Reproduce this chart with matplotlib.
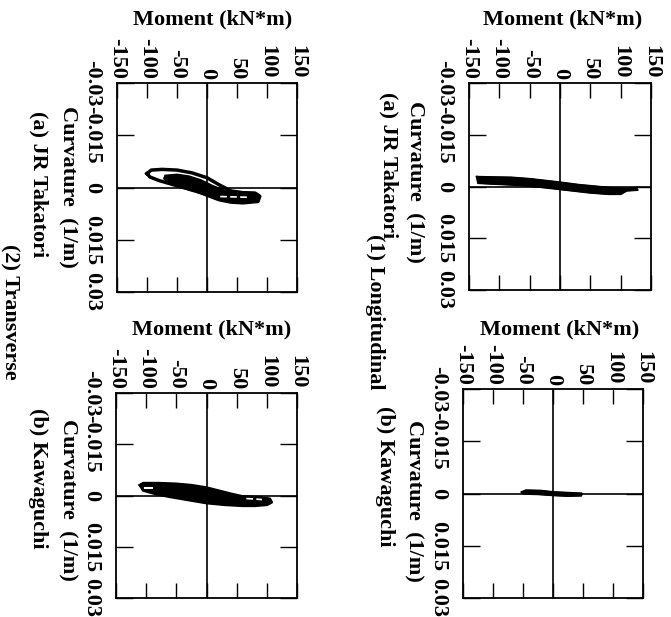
import matplotlib
matplotlib.use("Agg")
import matplotlib.pyplot as plt

plt.rcParams['font.family'] = ['Liberation Serif', 'DejaVu Serif']
plt.rcParams['font.size'] = 16
plt.rcParams['font.weight'] = 'bold'

W, H = 671, 617

moment_ticks = [-150, -100, -50, 0, 50, 100, 150]
moment_labels = ['-150', '-100', '-50', '0', '50', '100', '150']
curv_ticks = [-0.03, -0.015, 0, 0.015, 0.03]
curv_labels = ['-0.03', '-0.015', '0', '0.015', '0.03']

# hysteresis outlines: moment (kN*m), curvature (1/m)
# (2) transverse, (a) JR Takatori
tj_outer_m = [-100, -93, -75, -50, -25, 0, 20, 40, 60, 80, 88, 85, 60, 40, 20, 0, -20, -40, -60, -80, -95, -100]
tj_outer_k = [-0.0040, -0.0050, -0.0052, -0.0050, -0.0042, -0.0028, -0.0008, 0.0010, 0.0015, 0.0016, 0.0025,
              0.0040, 0.0044, 0.0042, 0.0035, 0.0022, 0.0008, 0.0000, -0.0010, -0.0020, -0.0030, -0.0040]
tj_core_m = [-72, -70, -50, -30, -10, 10, 30, 55, 80, 87, 80, 55, 30, 10, -10, -30, -50, -65, -72]
tj_core_k = [-0.0025, -0.0035, -0.0038, -0.0033, -0.0022, -0.0005, 0.0008, 0.0012, 0.0015, 0.0025,
             0.0040, 0.0043, 0.0038, 0.0030, 0.0018, 0.0008, -0.0005, -0.0015, -0.0025]
tj_gap_m = [22, 45, 70]
tj_gap_k = [0.0026, 0.0027, 0.0028]

# (2) transverse, (b) Kawaguchi
tk_core_m = [-110, -105, -80, -50, -25, 0, 20, 40, 60, 90, 105, 108, 100, 80, 60, 30, 0, -30, -60, -85, -105, -110]
tk_core_k = [-0.0030, -0.0036, -0.0036, -0.0034, -0.0030, -0.0023, -0.0014, -0.0005, 0.0003, 0.0005, 0.0010,
             0.0020, 0.0027, 0.0030, 0.0030, 0.0027, 0.0022, 0.0013, 0.0004, -0.0005, -0.0015, -0.0030]
tk_gap1_m = [-102, -90]
tk_gap1_k = [-0.0023, -0.0023]
tk_gap2_m = [66, 78, 92]
tk_gap2_k = [0.0009, 0.0010, 0.0012]

# (1) longitudinal, (a) JR Takatori
lj_core_m = [-137, -110, -80, -50, -20, 0, 30, 60, 90, 110, 125, 128, 110, 100, 80, 50, 20, 0, -30, -60, -90, -115, -135, -137]
lj_core_k = [-0.0028, -0.0027, -0.0026, -0.0022, -0.0016, -0.0012, -0.0005, 0.0000, 0.0005, 0.0006, 0.0004,
             0.0010, 0.0012, 0.0022, 0.0022, 0.0018, 0.0012, 0.0008, 0.0002, -0.0003, -0.0006, -0.0008, -0.0010, -0.0028]

# (1) longitudinal, (b) Kawaguchi
lk_core_m = [-52, -45, -20, 0, 25, 48, 47, 25, 0, -25, -48, -52]
lk_core_k = [-0.0004, -0.0009, -0.0008, -0.0004, -0.0002, 0.0000, 0.0006, 0.0007, 0.0005, 0.0002, 0.0001, -0.0004]


def px(x, y):
    return x / W, 1 - y / H


def rect(x0, x1, y0, y1):
    return [x0 / W, 1 - y1 / H, (x1 - x0) / W, (y1 - y0) / H]


fig = plt.figure(figsize=(W / 100, H / 100), dpi=100)

panels = [
    # box in pixels, site label, label centres (moment, curvature, site)
    dict(box=(117, 297, 83, 292), site='(a) JR Takatori', mom=(213, 19), curv=(68, 187), lab=(39, 184)),
    dict(box=(116, 297, 393, 598), site='(b) Kawaguchi', mom=(212, 329), curv=(68, 500), lab=(38, 478)),
    dict(box=(469, 651, 83, 290), site='(a) JR Takatori', mom=(563, 19), curv=(415, 182), lab=(389, 165)),
    dict(box=(463, 643, 389, 598), site='(b) Kawaguchi', mom=(560, 329), curv=(414, 501), lab=(385, 476)),
]

axes = []
for p in panels:
    x0, x1, y0, y1 = p['box']
    ax = fig.add_axes(rect(x0, x1, y0, y1))
    ax.set_xlim(-150, 150)
    ax.set_ylim(0.03, -0.03)
    ax.set_xticks(moment_ticks)
    ax.set_xticklabels(moment_labels)
    ax.set_yticks(curv_ticks)
    ax.set_yticklabels(curv_labels)
    ax.tick_params(axis='x', direction='in', length=11, width=1, top=True, bottom=True,
                   labeltop=True, labelbottom=False, labelrotation=-90, pad=3)
    ax.tick_params(axis='y', direction='in', length=12, width=1, left=True, right=True,
                   labelleft=True, labelright=False, labelrotation=-90, pad=11)
    for lbl in ax.get_yticklabels():
        lbl.set_va('center')
    for s in ax.spines.values():
        s.set_linewidth(1.3)
    ax.axhline(0, color='black', lw=1.2)
    ax.axvline(0, color='black', lw=1.2)
    fig.text(*px(*p['mom']), 'Moment (kN*m)', ha='center', va='center')
    fig.text(*px(*p['curv']), 'Curvature  (1/m)', ha='center', va='center', rotation=-90)
    fig.text(*px(*p['lab']), p['site'], ha='center', va='center', rotation=-90)
    axes.append(ax)

ax_tj, ax_tk, ax_lj, ax_lk = axes

ax_tj.plot(tj_outer_m, tj_outer_k, color='black', lw=2.5)
ax_tj.fill(tj_core_m, tj_core_k, color='black')
ax_tj.plot(tj_gap_m, tj_gap_k, color='white', lw=1.2, ls=(0, (4, 2)))

ax_tk.fill(tk_core_m, tk_core_k, color='black')
ax_tk.plot(tk_core_m, tk_core_k, color='black', lw=2)
ax_tk.plot(tk_gap1_m, tk_gap1_k, color='white', lw=1.5)
ax_tk.plot(tk_gap2_m, tk_gap2_k, color='white', lw=1.2, ls=(0, (4, 2)))

ax_lj.fill(lj_core_m, lj_core_k, color='black')
ax_lj.plot(lj_core_m, lj_core_k, color='black', lw=1.5)

ax_lk.fill(lk_core_m, lk_core_k, color='black')
ax_lk.plot(lk_core_m, lk_core_k, color='black', lw=1.5)

fig.text(*px(375, 312), '(1) Longitudinal', ha='center', va='center', rotation=-90)
fig.text(*px(10, 312), '(2) Transverse', ha='center', va='center', rotation=-90)

fig.savefig('out.png', dpi=100)
